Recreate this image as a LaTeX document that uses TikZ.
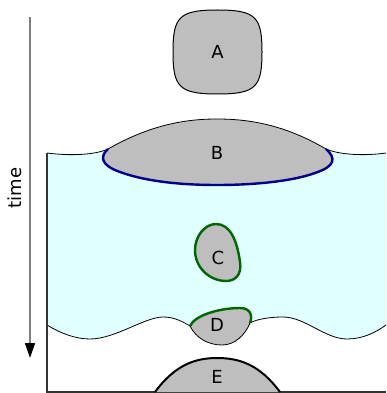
\documentclass[tikz,border=0pt]{standalone}
\usepackage{fontspec}
\setmainfont{DejaVu Sans}
\usepackage{tikz}
\usetikzlibrary{positioning,arrows.meta}
\usepackage{xcolor}
\definecolor{watercyan}{HTML}{E0FFFF}
\definecolor{dropgray}{HTML}{BEBEBE}
\definecolor{filmblue}{HTML}{00008B}
\definecolor{filmgreen}{HTML}{006400}
\definecolor{axisgray}{HTML}{808080}

\tikzset{
    droplet/.style={fill=dropgray, draw=black, line width=1pt},
    surface/.style={draw=black, line width=0.8pt},
    lbl/.style={font=\fontsize{18}{21}\selectfont, inner sep=0pt},
}

\begin{document}
\begin{tikzpicture}[x=1pt, y=-1pt]
    \useasboundingbox (0,0) rectangle (386,393);

    % =========================================================
    % WATER LAYER
    % =========================================================
    \fill[watercyan] (47,153) .. controls (70,156) and (95,155) .. (108,149)
        -- (326,149) .. controls (340,155) and (365,156) .. (386,153)
        -- (386,325) .. controls (375,333) and (362,339) .. (347,339)
        .. controls (325,339) and (305,317) .. (283,317)
        .. controls (270,317) and (257,319) .. (250,323)
        -- (190,326) .. controls (183,322) and (175,317) .. (163,317)
        .. controls (145,317) and (115,339) .. (90,339)
        .. controls (75,339) and (60,333) .. (47,325) -- cycle;

    % Top surface
    \draw[surface] (47,153) .. controls (70,156) and (95,155) .. (108,149);
    \draw[surface] (326,149) .. controls (340,155) and (365,156) .. (386,153);

    % Bottom surface
    \draw[surface] (47,325) .. controls (60,333) and (75,339) .. (90,339)
        .. controls (115,339) and (145,317) .. (163,317)
        .. controls (175,317) and (183,322) .. (190,326);
    \draw[surface] (250,323) .. controls (257,319) and (270,317) .. (283,317)
        .. controls (305,317) and (325,339) .. (347,339)
        .. controls (362,339) and (375,333) .. (386,325);

    % Frame
    \draw[line width=1.4pt, draw=black!80] (47,153) -- (47,392) -- (386,392);

    % =========================================================
    % DROPS A - E
    % =========================================================
    % A: free drop
    \draw[droplet] (217.5,10) .. controls (256,10) and (262,17) .. (262,52)
        .. controls (262,87) and (256,94) .. (217.5,94)
        .. controls (179,94) and (173,87) .. (173,52)
        .. controls (173,17) and (179,10) .. (217.5,10) -- cycle;
    \node[lbl] (labA) at (217.5,52) {A};

    % B: drop at the top surface
    \fill[dropgray] (108,149) .. controls (150,125) and (185,119) .. (217,119)
        .. controls (250,119) and (285,125) .. (326,149)
        .. controls (336,158) and (336,166) .. (315,173)
        .. controls (290,182) and (250,185) .. (217,185)
        .. controls (190,185) and (150,183) .. (120,172)
        .. controls (100,165) and (100,156) .. (108,149) -- cycle;
    \draw[line width=0.8pt] (108,149) .. controls (150,125) and (185,119) .. (217,119)
        .. controls (250,119) and (285,125) .. (326,149);
    \draw[line width=2.4pt, draw=filmblue] (326,149)
        .. controls (336,158) and (336,166) .. (315,173)
        .. controls (290,182) and (250,185) .. (217,185)
        .. controls (190,185) and (150,183) .. (120,172)
        .. controls (100,165) and (100,156) .. (108,149);
    \node[lbl] (labB) at (217,153) {B};

    % C: drop inside the water
    \draw[droplet, line width=2.4pt, draw=filmgreen] (216,224)
        .. controls (230,224) and (237,240) .. (240,262)
        .. controls (242,275) and (235,281) .. (226,281)
        .. controls (210,281) and (195,268) .. (195,250)
        .. controls (195,236) and (205,224) .. (216,224) -- cycle;
    \node[lbl] (labC) at (218,258) {C};

    % D: drop at the bottom surface
    \fill[dropgray] (190,326) .. controls (195,315) and (220,308) .. (240,308)
        .. controls (250,308) and (253,315) .. (250,323)
        .. controls (245,335) and (235,345) .. (222,345)
        .. controls (208,345) and (196,338) .. (190,326) -- cycle;
    \draw[line width=2.4pt, draw=filmgreen] (190,326)
        .. controls (195,315) and (220,308) .. (240,308)
        .. controls (250,308) and (253,315) .. (250,323);
    \draw[line width=0.8pt] (250,323)
        .. controls (245,335) and (235,345) .. (222,345)
        .. controls (208,345) and (196,338) .. (190,326);
    \node[lbl] (labD) at (217,325) {D};

    % E: drop on the floor
    \fill[dropgray] (155,392) .. controls (175,365) and (195,358) .. (217,358)
        .. controls (240,358) and (260,365) .. (280,392) -- cycle;
    \draw[line width=2pt] (155,392) .. controls (175,365) and (195,358) .. (217,358)
        .. controls (240,358) and (260,365) .. (280,392);
    \node[lbl] (labE) at (217,377) {E};

    % =========================================================
    % TIME AXIS
    % =========================================================
    \coordinate (tstart) at (30,17);
    \coordinate (tend) at (30,358);
    \draw[line width=1.4pt, draw=axisgray, -{Triangle[length=15pt, width=10pt, color=black]}] (tstart) -- (tend);
    \node[lbl, rotate=90] (timelbl) at (15,188) {time};
\end{tikzpicture}
\end{document}
